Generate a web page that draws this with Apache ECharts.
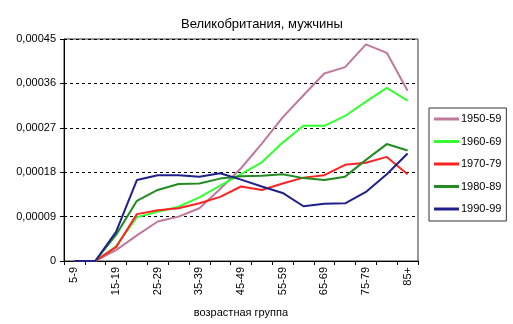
<!DOCTYPE html>
<html><head><meta charset="utf-8">
<script src="https://cdn.jsdelivr.net/npm/echarts@6/dist/echarts.min.js"></script>
<style>html,body{margin:0;padding:0;background:#fff}#c{width:513px;height:324px}</style>
</head><body><div id="c"></div>
<script>
var categories = ['5-9','10-14','15-19','20-24','25-29','30-34','35-39','40-44','45-49','50-54','55-59','60-64','65-69','70-74','75-79','80-84','85+'];
var seriesNames = ['1950-59','1960-69','1970-79','1980-89','1990-99'];
var s1950 = [0,0,0.000022,0.000052,0.000080,0.000090,0.000107,0.000146,0.000188,0.000238,0.000291,0.000336,0.000380,0.000393,0.000439,0.000422,0.000345];
var s1960 = [0,0,0.000030,0.000089,0.000100,0.000110,0.000129,0.000153,0.000176,0.000200,0.000240,0.000274,0.000274,0.000294,0.000323,0.000351,0.000325];
var s1970 = [0,0,0.000028,0.000095,0.000103,0.000107,0.000117,0.000130,0.000151,0.000144,0.000157,0.000169,0.000174,0.000195,0.000199,0.000211,0.000176];
var s1980 = [0,0,0.000053,0.000122,0.000144,0.000156,0.000157,0.000167,0.000172,0.000173,0.000176,0.000168,0.000164,0.000171,0.000205,0.000237,0.000224];
var s1990 = [0,0,0.000059,0.000164,0.000174,0.000174,0.000171,0.000178,0.000165,0.000151,0.000138,0.000111,0.000116,0.000117,0.000140,0.000176,0.000218];
var colors = ['#C0789C','#33FF33','#FF2222','#228B22','#20208C'];
var allData = [s1950,s1960,s1970,s1980,s1990];
var font = 'Liberation Sans, Arial, sans-serif';

var chart = echarts.init(document.getElementById('c'), null, {renderer:'canvas'});
chart.setOption({
  backgroundColor:'#fff',
  animation:false,
  title:{text:'Великобритания, мужчины', left:176, top:13,
    textStyle:{fontFamily:font,fontSize:13,fontWeight:'normal',color:'#000'}},
  grid:{left:64, top:39, width:354, height:222, show:true, borderColor:'#333', borderWidth:1, backgroundColor:'#fff'},
  legend:{orient:'vertical', left:429, top:108, padding:[4,5,5,5], itemGap:8.5,
    itemWidth:25, itemHeight:3, icon:'rect',
    borderColor:'#333', borderWidth:1,
    textStyle:{fontFamily:font,fontSize:11,color:'#000',lineHeight:14, padding:[0,0,0,-3]},
    data:seriesNames},
  xAxis:{type:'category', data:categories, boundaryGap:true,
    name:'возрастная группа', nameLocation:'middle', nameGap:46,
    nameTextStyle:{fontFamily:font,fontSize:11,color:'#000'},
    axisLine:{lineStyle:{color:'#000'}},
    axisTick:{show:true, interval:0, length:4, lineStyle:{color:'#000'}},
    axisLabel:{interval:1, rotate:90, fontFamily:font, fontSize:11, color:'#000', margin:6},
    splitLine:{show:false}},
  yAxis:{type:'value', min:0, max:0.00045, interval:0.00009,
    axisLine:{show:true, lineStyle:{color:'#000'}},
    axisTick:{show:true, length:4, lineStyle:{color:'#000'}},
    axisLabel:{fontFamily:font, fontSize:11, color:'#000', margin:8,
      formatter:function(v){ if(v===0) return '0'; return v.toFixed(5).replace('.',','); }},
    splitLine:{show:true, lineStyle:{color:'#000', type:[3,3], width:1}}},
  series: seriesNames.map(function(n,i){
    return {name:n, type:'line', data:allData[i], showSymbol:false, symbol:'none',
      lineStyle:{width:2, color:colors[i]}, itemStyle:{color:colors[i]}};
  })
});
</script></body></html>
